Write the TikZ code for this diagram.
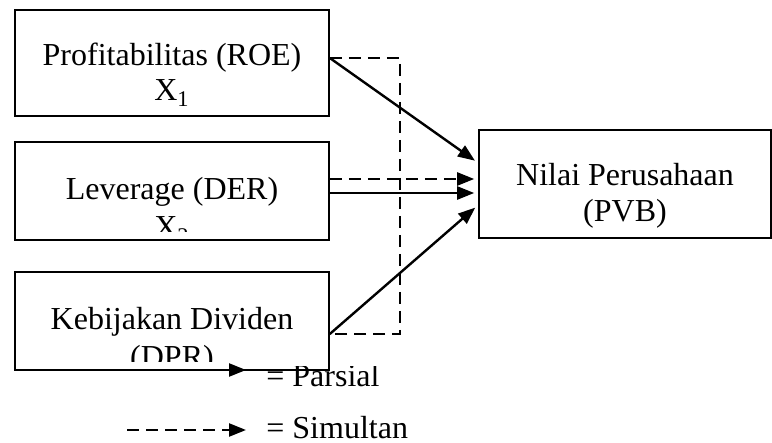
\documentclass[tikz,border=0pt]{standalone}
\usepackage{fontspec}
\setmainfont{Liberation Serif}
\usetikzlibrary{arrows.meta}
\tikzset{
  box/.style={draw, line width=0.8pt, inner sep=0pt},
  txt/.style={inner sep=0pt, anchor=base, font=\fontsize{16}{19}\selectfont},
  conn/.style={line width=1.2pt},
  dsh/.style={line width=1.2pt, dash pattern=on 6pt off 3.5pt},
  tip/.style={-{Triangle[length=8.5pt,width=6.5pt]}, shorten >=2pt}
}
\begin{document}
\begin{tikzpicture}[x=0.5pt,y=-0.5pt]
\useasboundingbox (0,0) rectangle (772,443);
% boxes
\node[box, minimum width=157pt, minimum height=53pt] (b1) at (172,63) {};
\node[box, minimum width=157pt, minimum height=49pt] (b2) at (172,191) {};
\node[box, minimum width=157pt, minimum height=49pt] (b3) at (172,321) {};
\node[box, minimum width=146pt, minimum height=54pt] (b4) at (625,184) {};
% texts
\node[txt] (b1t1) at (172,66) {Profitabilitas (ROE)};
\node[txt] (b1t2) at (172,101) {X\textsubscript{1}};
\node[txt] (b2t1) at (172,200) {Leverage (DER)};
\begin{scope}
\clip (15,142) rectangle (329,232);
\node[txt] (b2t2) at (172,238) {X\textsubscript{2}};
\end{scope}
\node[txt] (b3t1) at (172,330) {Kebijakan Dividen};
\begin{scope}
\clip (15,272) rectangle (329,362);
\node[txt] (b3t2) at (172,368) {(DPR)};
\end{scope}
\node[txt] (b4t1) at (625,186) {Nilai Perusahaan};
\node[txt] (b4t2) at (625,222) {(PVB)};
% connectors
\coordinate (r1) at ([yshift=2.5pt]b1.east);
\coordinate (r3) at ([yshift=-6.5pt]b3.east);
\coordinate (d1) at (400,58);
\coordinate (d2) at (400,334);
\draw[dsh] (r1) -- (d1) -- (d2) -- (r3);
\draw[conn, tip] (r1) -- ([yshift=10.5pt]b4.west);
\draw[dsh, tip] ([yshift=6pt]b2.east) -- ([yshift=2.5pt]b4.west);
\draw[conn, tip] ([yshift=-1pt]b2.east) -- ([yshift=-4.5pt]b4.west);
\draw[conn, tip] (r3) -- ([yshift=-10.5pt]b4.west);
% legend
\coordinate (l1a) at (127,370);
\coordinate (l1b) at (250,370);
\coordinate (l2a) at (127,430);
\coordinate (l2b) at (250,430);
\draw[conn, tip] (l1a) -- (l1b);
\draw[dsh, tip] (l2a) -- (l2b);
\begin{scope}
\clip (255,367) rectangle (440,405);
\node[txt, anchor=base west] (lg1) at (266,387) {= Parsial};
\end{scope}
\node[txt, anchor=base west] (lg2) at (266,439) {= Simultan};
\end{tikzpicture}
\end{document}
